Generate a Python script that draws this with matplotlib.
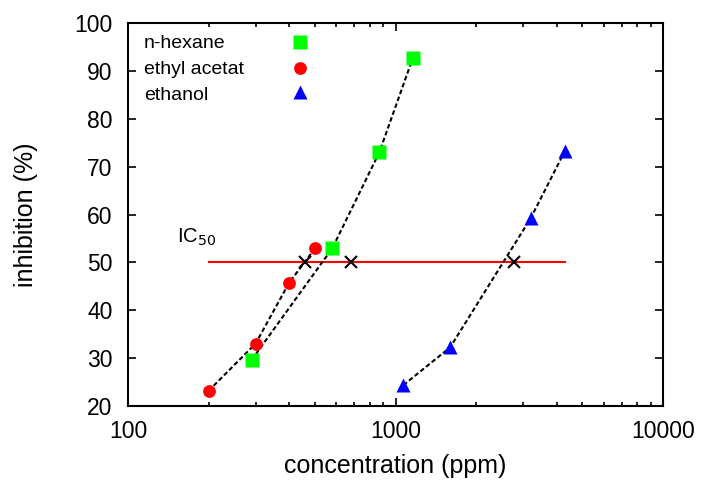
import matplotlib
matplotlib.use("Agg")
import matplotlib.pyplot as plt
from matplotlib.ticker import LogLocator, FixedLocator, NullFormatter
from matplotlib.lines import Line2D

plt.rcParams['font.family'] = ['Liberation Sans', 'DejaVu Sans']

# Data
hexane_x = [290, 580, 870, 1160]
hexane_y = [29.6, 52.9, 73.0, 92.7]
ethyl_x = [200, 300, 400, 500]
ethyl_y = [23.1, 33.0, 45.7, 52.9]
ethanol_x = [1070, 1600, 3200, 4300]
ethanol_y = [24.3, 32.2, 59.2, 73.3]
ic50_x = [459, 682, 2780]
ic50_y = [50, 50, 50]
ic50_line_x = [200, 4300]
ic50_line_y = [50, 50]
yticks = [20, 30, 40, 50, 60, 70, 80, 90, 100]
xticks = [100, 1000, 10000]
xticklabels = ['100', '1000', '10000']
legend_labels = ['n-hexane', 'ethyl acetat', 'ethanol']

fig = plt.figure(figsize=(7.03, 4.82), dpi=100)
ax = fig.add_axes([128/703, 1 - 405.7/482, (663-128)/703, (405.7-23.3)/482])

ax.plot(ic50_line_x, ic50_line_y, color='#ff0000', lw=1.5, zorder=2)

dash = dict(color='black', lw=1.5, ls=(0, (2.2, 1.3)), zorder=3)
ax.plot(hexane_x, hexane_y, **dash)
ax.plot(ethyl_x, ethyl_y, **dash)
ax.plot(ethanol_x, ethanol_y, **dash)

styles = [dict(marker='s', ms=9.8, color='#00ff00'),
          dict(marker='o', ms=9.2, color='#ff0000'),
          dict(marker='^', ms=9.5, color='#0000ff')]
for xs, ys, st in zip([hexane_x, ethyl_x, ethanol_x], [hexane_y, ethyl_y, ethanol_y], styles):
    ax.plot(xs, ys, ls='none', mec='none', zorder=4, **st)
ax.plot(ic50_x, ic50_y, ls='none', marker='x', ms=9, mew=1.5, color='black', zorder=5)

ax.text(152, 54.0, r'IC$_{50}$', fontsize=14.5, ha='left', va='baseline')

# legend (manual, text left-aligned, symbol on the right)
def ypix(p):
    return (405.7 - p) / (405.7 - 23.3)
text_base = [48.3, 74.0, 99.5]
mark_y = [41.7, 67.7, 92.0]
for lab, tb, my, st in zip(legend_labels, text_base, mark_y, styles):
    ax.text((144 - 128) / 535, ypix(tb), lab, transform=ax.transAxes, fontsize=14,
            ha='left', va='baseline')
    ax.add_line(Line2D([(300 - 128) / 535], [ypix(my)], transform=ax.transAxes,
                       ls='none', mec='none', zorder=4, **st))

ax.set_xscale('log')
ax.set_xlim(100, 10000)
ax.set_ylim(20, 100)
ax.xaxis.set_major_locator(FixedLocator(xticks))
ax.set_xticklabels(xticklabels)
ax.xaxis.set_minor_locator(LogLocator(base=10, subs=range(2, 10)))
ax.xaxis.set_minor_formatter(NullFormatter())
ax.set_yticks(yticks)
ax.set_yticklabels([str(v) for v in yticks])

ax.tick_params(which='both', direction='in', top=True, right=True, labelsize=16.5, width=1.2)
ax.tick_params(which='major', length=6)
ax.tick_params(axis='x', which='major', pad=10)
ax.tick_params(axis='y', which='major', pad=11)
ax.tick_params(which='minor', length=3)
for s in ax.spines.values():
    s.set_linewidth(1.5)

ax.set_xlabel('concentration (ppm)', fontsize=18, labelpad=8)
ax.set_ylabel('inhibition (%)', fontsize=18, labelpad=26)

fig.savefig('out.png', dpi=100)
